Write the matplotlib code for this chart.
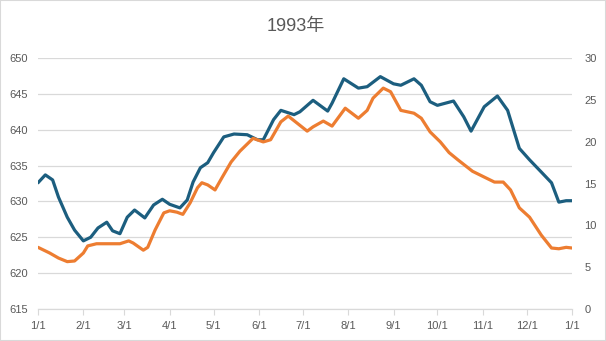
import datetime as dt
import matplotlib
matplotlib.use("Agg")
import matplotlib.pyplot as plt

plt.rcParams['font.family'] = ['Liberation Sans', 'Noto Sans CJK SC', 'DejaVu Sans']

# day offsets from 1993-01-01 and values
blue_days = [0, 5, 10, 14, 20, 25, 31, 36, 41, 47, 51, 56, 61, 66, 73, 79, 85, 90, 97,
             102, 106, 111, 116, 120, 127, 134, 143, 150, 154, 161, 166, 175, 179, 188,
             198, 201, 209, 219, 225, 234, 243, 248, 257, 262, 268, 273, 284, 291, 296,
             305, 314, 321, 329, 336, 344, 351, 356, 361, 365]
blue_vals = [632.6, 633.7, 633.0, 630.6, 627.8, 626.0, 624.5, 625.0, 626.3, 627.1, 625.9,
             625.5, 627.8, 628.8, 627.7, 629.5, 630.3, 629.6, 629.1, 630.2, 632.7, 634.7,
             635.4, 636.8, 639.0, 639.4, 639.3, 638.6, 638.6, 641.4, 642.7, 642.1, 642.5,
             644.1, 642.6, 643.7, 647.1, 645.8, 646.0, 647.4, 646.4, 646.2, 647.1, 646.2,
             643.9, 643.4, 644.0, 641.8, 639.8, 643.2, 644.7, 642.7, 637.4, 635.8, 634.1,
             632.6, 629.9, 630.1, 630.1]

orange_days = [0, 8, 14, 20, 25, 31, 34, 40, 51, 56, 62, 65, 72, 75, 80, 86, 90, 95, 99,
               104, 109, 112, 116, 121, 126, 132, 138, 147, 154, 159, 166, 171, 176, 184,
               188, 195, 201, 210, 219, 225, 229, 236, 241, 248, 257, 262, 268, 275, 281,
               287, 297, 305, 312, 318, 323, 329, 336, 344, 351, 356, 361, 365]
orange_vals = [7.37, 6.69, 6.09, 5.66, 5.74, 6.69, 7.54, 7.8, 7.8, 7.8, 8.14, 7.89, 7.03,
               7.37, 9.43, 11.49, 11.74, 11.57, 11.31, 12.69, 14.49, 15.09, 14.83, 14.23,
               15.77, 17.57, 18.86, 20.4, 19.97, 20.23, 22.37, 23.06, 22.37, 21.26, 21.77,
               22.46, 21.86, 24.0, 22.8, 23.74, 25.2, 26.4, 25.97, 23.74, 23.4, 22.8, 21.17,
               19.97, 18.69, 17.83, 16.46, 15.77, 15.17, 15.17, 14.23, 12.09, 10.97, 8.83,
               7.29, 7.2, 7.37, 7.29]

title = "1993年"
left_ticks = [615, 620, 625, 630, 635, 640, 645, 650]
right_ticks = [0, 5, 10, 15, 20, 25, 30]

start = dt.date(1993, 1, 1)
blue_x = [start + dt.timedelta(days=d) for d in blue_days]
orange_x = [start + dt.timedelta(days=d) for d in orange_days]

text_c = '#595959'
grid_c = '#d9d9d9'

fig = plt.figure(figsize=(6.06, 3.41), dpi=100)
fig.patches.append(plt.Rectangle((0, 0), 1, 1, transform=fig.transFigure,
                                 fill=False, edgecolor='#d9d9d9', linewidth=1.5))
ax = fig.add_axes([38 / 606, 1 - 309 / 341, 534 / 606, 251 / 341])
ax2 = ax.twinx()

ax.set_ylim(615, 650)
ax2.set_ylim(0, 30)
ax.set_yticks(left_ticks)
ax2.set_yticks(right_ticks)
ax.set_xlim(start, dt.date(1994, 1, 1))
ax.grid(axis='y', color=grid_c, linewidth=0.9)
ax.set_axisbelow(True)

ax.plot(blue_x, blue_vals, color='#1c5e7f', linewidth=2.3,
        solid_joinstyle='round', solid_capstyle='round', zorder=3)
ax2.plot(orange_x, orange_vals, color='#ed7d31', linewidth=2.3,
         solid_joinstyle='round', solid_capstyle='round', zorder=3)

months = [dt.date(1993, m, 1) for m in range(1, 13)] + [dt.date(1994, 1, 1)]
ax.set_xticks(months)
ax.set_xticklabels([f"{d.month}/{d.day}" for d in months])

for a in (ax, ax2):
    for s in ('top', 'left', 'right'):
        a.spines[s].set_visible(False)
    a.spines['bottom'].set_color(grid_c)
    a.tick_params(axis='y', length=0, labelsize=8, labelcolor=text_c)
ax.tick_params(axis='y', pad=7.5)
ax2.tick_params(axis='y', pad=9)
ax.tick_params(axis='x', length=4, color=grid_c, labelsize=8, labelcolor=text_c, pad=4.5)

fig.text(296 / 606, 1 - 27 / 341, title, ha='center', va='center', fontsize=13, color=text_c)

fig.savefig('out.png', dpi=100)
